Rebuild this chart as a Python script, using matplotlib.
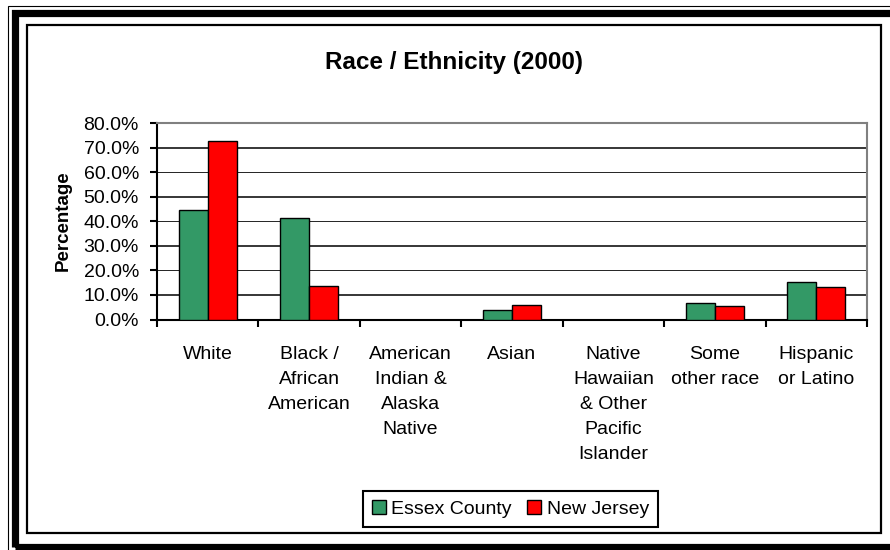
import numpy as np
import matplotlib
matplotlib.use('Agg')
import matplotlib.pyplot as plt
from matplotlib.patches import Rectangle, Patch

plt.rcParams['font.family'] = ['Liberation Sans', 'DejaVu Sans']

categories = ["White", "Black /\nAfrican\nAmerican", "American\nIndian &\nAlaska\nNative",
              "Asian", "Native\nHawaiian\n& Other\nPacific\nIslander", "Some\nother race",
              "Hispanic\nor Latino"]
essex = [44.5, 41.2, 0.0, 3.7, 0.0, 6.9, 15.4]
new_jersey = [72.6, 13.6, 0.0, 5.7, 0.0, 5.4, 13.3]
yticks = [0, 10, 20, 30, 40, 50, 60, 70, 80]

W, H = 890, 550
fig = plt.figure(figsize=(8.9, 5.5), dpi=100)

def fx(px):
    return px / W

def fy(py):
    return 1 - py / H

# decorative frame (pixel positions from the reference)
fig.add_artist(Rectangle((fx(7.5), fy(560)), fx(900) - fx(7.5), fy(5.5) - fy(560),
                         transform=fig.transFigure, fill=False, ec='k', lw=0.8))
fig.add_artist(Rectangle((fx(14.5), fy(546.5)), fx(900) - fx(14.5), fy(12.5) - fy(546.5),
                         transform=fig.transFigure, fill=False, ec='k', lw=5.2))
fig.add_artist(Rectangle((fx(27), fy(532.5)), fx(881) - fx(27), fy(25) - fy(532.5),
                         transform=fig.transFigure, fill=False, ec='k', lw=1.6))

ax = fig.add_axes([fx(157), fy(319.5), fx(867) - fx(157), fy(123) - fy(319.5)])

x = np.arange(len(categories))
bw = 0.2857
green = '#339966'
red = '#ff0000'
ax.bar(x - bw / 2, essex, bw, color=green, edgecolor='k', lw=1.0, zorder=3)
ax.bar(x + bw / 2, new_jersey, bw, color=red, edgecolor='k', lw=1.0, zorder=3)

ax.set_xlim(-0.5, len(categories) - 0.5)
ax.set_ylim(0, 80)

# gridlines (Excel style, alternating weight in the screenshot)
for v in yticks[1:-1]:
    ax.axhline(v, color='k', lw=1.1 if v % 20 else 0.6, zorder=1)

ax.set_yticks(yticks)
ax.set_yticklabels(['%.1f%%' % v for v in yticks], fontsize=14)
ax.tick_params(axis='y', direction='out', length=5, width=1.5, pad=8)

ax.set_xticks(x)
ax.set_xticklabels(categories, fontsize=14, linespacing=1.62, va='top')
ax.tick_params(axis='x', which='major', length=0, pad=19)
ax.set_xticks(np.arange(-0.5, len(categories)), minor=True)
ax.tick_params(axis='x', which='minor', direction='out', length=5, width=1.5)

for s in ['left', 'bottom']:
    ax.spines[s].set_color('k')
    ax.spines[s].set_linewidth(1.5)
for s in ['top', 'right']:
    ax.spines[s].set_color('#808080')
    ax.spines[s].set_linewidth(1.5)

fig.text(fx(63), fy(221), 'Percentage', rotation=90, ha='center', va='center',
         fontsize=13.5, fontweight='bold')

fig.text(fx(454), fy(62), 'Race / Ethnicity (2000)', ha='center', va='center',
         fontsize=17.5, fontweight='bold')

handles = [Patch(facecolor=green, edgecolor='k', lw=1.0), Patch(facecolor=red, edgecolor='k', lw=1.0)]
leg = fig.legend(handles, ['Essex County', 'New Jersey'], loc='center',
                 bbox_to_anchor=(fx(510.5), fy(509)), ncol=2, fontsize=14,
                 fancybox=False, frameon=True, edgecolor='k', framealpha=1,
                 handlelength=0.7, handleheight=0.7, handletextpad=0.3,
                 columnspacing=0.8, borderpad=0.45, borderaxespad=0)
leg.get_frame().set_linewidth(1.5)

fig.savefig('out.png', dpi=100)
